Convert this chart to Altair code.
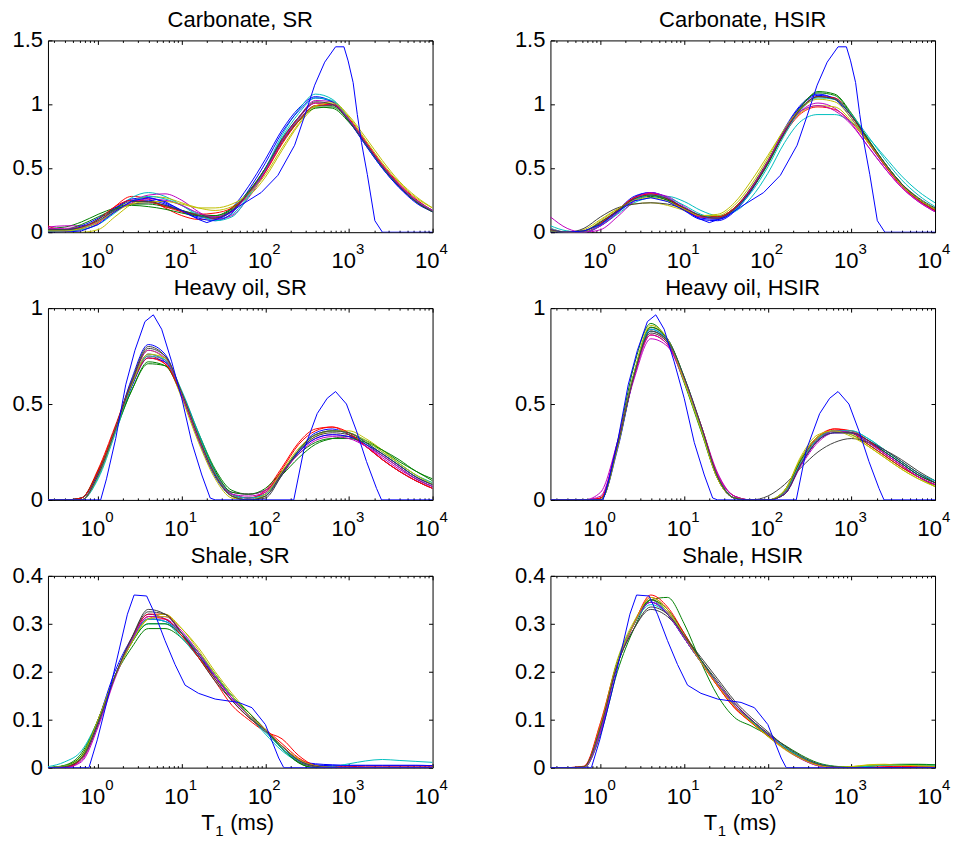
import altair as alt
import pandas as pd

FONT = "Liberation Sans"
W = 385
H = 192

# T1 grid (ms) on which the estimated distributions are sampled
T1_GRID = [0.251, 0.398, 0.631, 1.0, 1.585, 2.512, 3.981, 6.31, 10.0, 15.85, 25.12, 39.81,
           63.1, 100.0, 158.5, 251.2, 398.1, 631.0, 1000.0, 1585.0, 2512.0, 3981.0, 6310.0, 10000.0]

MATLAB_COLORS = ["#0000FF", "#008000", "#FF0000", "#00BFBF", "#BF00BF", "#BFBF00", "#404040"]
TRUE_COLOR = "#0000FF"

X_MAJOR = [1, 10, 100, 1000, 10000]
X_EXP = ["0", "1", "2", "3", "4"]
X_DECADES = [0.1, 1, 10, 100, 1000]
X_MULT = [1, 2, 3, 4, 5, 6, 7, 8, 9]
X_TICKS = [round(m * d, 6) for d in X_DECADES for m in X_MULT if m * d >= 0.25] + [10000]

# ---------------- Carbonate ----------------
CARB_SR = [
    [0.01, 0.01, 0.03, 0.08, 0.18, 0.26, 0.27, 0.23, 0.17, 0.12, 0.11, 0.19, 0.36, 0.57, 0.80, 0.97, 1.06, 1.02, 0.87, 0.68, 0.50, 0.35, 0.24, 0.16],
    [0.03, 0.04, 0.08, 0.14, 0.19, 0.22, 0.22, 0.20, 0.17, 0.14, 0.13, 0.18, 0.31, 0.50, 0.72, 0.88, 0.98, 0.97, 0.86, 0.69, 0.51, 0.36, 0.24, 0.16],
    [0.05, 0.01, 0.02, 0.07, 0.20, 0.28, 0.26, 0.19, 0.13, 0.10, 0.11, 0.16, 0.30, 0.49, 0.72, 0.90, 1.01, 1.00, 0.88, 0.70, 0.52, 0.37, 0.25, 0.17],
    [0.02, 0.02, 0.03, 0.08, 0.17, 0.27, 0.31, 0.28, 0.21, 0.13, 0.10, 0.14, 0.29, 0.50, 0.76, 0.96, 1.08, 1.04, 0.89, 0.69, 0.51, 0.36, 0.24, 0.17],
    [0.04, 0.05, 0.05, 0.08, 0.16, 0.24, 0.29, 0.30, 0.25, 0.16, 0.10, 0.13, 0.27, 0.47, 0.71, 0.90, 1.03, 1.02, 0.88, 0.70, 0.52, 0.37, 0.25, 0.17],
    [0.01, 0.00, 0.00, 0.02, 0.12, 0.22, 0.28, 0.27, 0.23, 0.19, 0.17, 0.20, 0.28, 0.43, 0.64, 0.84, 0.98, 1.02, 0.91, 0.74, 0.56, 0.40, 0.28, 0.19],
    [0.02, 0.02, 0.04, 0.09, 0.17, 0.22, 0.23, 0.21, 0.17, 0.13, 0.12, 0.17, 0.30, 0.48, 0.70, 0.87, 0.99, 0.99, 0.88, 0.70, 0.52, 0.37, 0.25, 0.17],
    [0.02, 0.02, 0.05, 0.11, 0.19, 0.25, 0.25, 0.22, 0.16, 0.11, 0.09, 0.15, 0.33, 0.54, 0.78, 0.95, 1.05, 1.02, 0.87, 0.68, 0.50, 0.35, 0.23, 0.16],
    [0.01, 0.02, 0.06, 0.12, 0.18, 0.21, 0.20, 0.18, 0.15, 0.13, 0.13, 0.19, 0.32, 0.50, 0.71, 0.87, 0.97, 0.98, 0.87, 0.70, 0.51, 0.36, 0.24, 0.16],
    [0.02, 0.01, 0.03, 0.10, 0.20, 0.25, 0.24, 0.20, 0.16, 0.14, 0.15, 0.19, 0.30, 0.47, 0.69, 0.87, 0.99, 1.00, 0.89, 0.71, 0.53, 0.38, 0.26, 0.17],
    [0.01, 0.01, 0.02, 0.06, 0.15, 0.24, 0.28, 0.26, 0.21, 0.14, 0.09, 0.12, 0.28, 0.49, 0.74, 0.93, 1.05, 1.03, 0.88, 0.69, 0.51, 0.36, 0.25, 0.17],
    [0.03, 0.03, 0.04, 0.08, 0.16, 0.23, 0.26, 0.25, 0.21, 0.15, 0.12, 0.16, 0.30, 0.48, 0.71, 0.89, 1.01, 1.00, 0.88, 0.70, 0.52, 0.37, 0.25, 0.17],
    [0.01, 0.01, 0.03, 0.08, 0.16, 0.22, 0.24, 0.24, 0.22, 0.19, 0.19, 0.22, 0.30, 0.45, 0.66, 0.85, 0.99, 1.01, 0.90, 0.72, 0.54, 0.39, 0.27, 0.19],
    [0.02, 0.02, 0.04, 0.10, 0.18, 0.24, 0.24, 0.21, 0.17, 0.13, 0.11, 0.17, 0.31, 0.50, 0.73, 0.90, 1.02, 1.00, 0.87, 0.69, 0.51, 0.36, 0.24, 0.16],
]
CARB_HSIR = [
    [0.01, 0.00, 0.00, 0.06, 0.17, 0.28, 0.31, 0.26, 0.17, 0.10, 0.09, 0.16, 0.32, 0.55, 0.81, 1.00, 1.08, 1.04, 0.89, 0.70, 0.52, 0.37, 0.25, 0.17],
    [0.02, 0.00, 0.01, 0.08, 0.16, 0.25, 0.28, 0.25, 0.19, 0.13, 0.12, 0.19, 0.34, 0.55, 0.79, 0.99, 1.09, 1.07, 0.92, 0.72, 0.53, 0.37, 0.26, 0.18],
    [0.03, 0.00, 0.00, 0.06, 0.17, 0.27, 0.30, 0.26, 0.18, 0.12, 0.11, 0.18, 0.34, 0.54, 0.77, 0.93, 0.98, 0.96, 0.86, 0.70, 0.53, 0.38, 0.26, 0.17],
    [0.05, 0.01, 0.00, 0.05, 0.14, 0.23, 0.27, 0.28, 0.24, 0.17, 0.13, 0.16, 0.27, 0.46, 0.70, 0.87, 0.92, 0.92, 0.86, 0.74, 0.59, 0.44, 0.32, 0.23],
    [0.12, 0.03, 0.00, 0.02, 0.12, 0.24, 0.30, 0.28, 0.20, 0.13, 0.11, 0.17, 0.33, 0.54, 0.78, 0.95, 1.01, 0.97, 0.85, 0.67, 0.50, 0.35, 0.24, 0.16],
    [0.01, 0.00, 0.02, 0.10, 0.18, 0.22, 0.23, 0.21, 0.17, 0.13, 0.14, 0.23, 0.40, 0.60, 0.80, 0.94, 0.99, 0.98, 0.87, 0.70, 0.53, 0.37, 0.26, 0.17],
    [0.02, 0.00, 0.03, 0.12, 0.19, 0.22, 0.23, 0.22, 0.18, 0.13, 0.12, 0.19, 0.35, 0.56, 0.79, 0.97, 1.06, 1.04, 0.91, 0.72, 0.54, 0.38, 0.26, 0.18],
    [0.02, 0.00, 0.00, 0.05, 0.15, 0.27, 0.31, 0.27, 0.18, 0.11, 0.10, 0.17, 0.33, 0.54, 0.80, 0.99, 1.07, 1.05, 0.91, 0.72, 0.53, 0.37, 0.26, 0.17],
    [0.01, 0.00, 0.01, 0.07, 0.16, 0.26, 0.29, 0.25, 0.18, 0.12, 0.11, 0.18, 0.33, 0.53, 0.78, 0.98, 1.10, 1.08, 0.93, 0.73, 0.54, 0.38, 0.26, 0.18],
    [0.02, 0.00, 0.00, 0.07, 0.17, 0.27, 0.30, 0.26, 0.18, 0.12, 0.12, 0.19, 0.34, 0.55, 0.79, 0.97, 1.06, 1.05, 0.91, 0.71, 0.52, 0.36, 0.25, 0.17],
    [0.03, 0.00, 0.00, 0.06, 0.15, 0.25, 0.29, 0.27, 0.21, 0.14, 0.11, 0.17, 0.31, 0.51, 0.76, 0.96, 1.05, 1.04, 0.92, 0.75, 0.57, 0.41, 0.29, 0.20],
    [0.02, 0.00, 0.00, 0.05, 0.15, 0.26, 0.31, 0.27, 0.19, 0.12, 0.11, 0.18, 0.34, 0.55, 0.79, 0.95, 0.99, 0.95, 0.84, 0.67, 0.50, 0.35, 0.24, 0.16],
    [0.01, 0.00, 0.01, 0.09, 0.18, 0.25, 0.27, 0.24, 0.18, 0.13, 0.13, 0.21, 0.37, 0.58, 0.81, 0.97, 1.04, 1.02, 0.89, 0.71, 0.53, 0.37, 0.26, 0.18],
    [0.02, 0.00, 0.01, 0.08, 0.17, 0.26, 0.29, 0.26, 0.19, 0.13, 0.11, 0.18, 0.33, 0.54, 0.78, 0.97, 1.06, 1.04, 0.91, 0.72, 0.54, 0.38, 0.27, 0.19],
]
CARB_TRUE_T = [0.251, 0.398, 0.631, 1.0, 1.585, 2.512, 3.981, 6.31, 10.0, 15.85, 19.95, 31.62, 47.86, 89.13,
               141.3, 223.9, 295.1, 389.0, 512.9, 691.8, 871.0, 977.2, 1122.0, 1259.0, 1413.0, 1660.0,
               2042.0, 2512.0, 10000.0]
CARB_TRUE_V = [0.0, 0.0, 0.01, 0.06, 0.16, 0.245, 0.27, 0.24, 0.17, 0.10, 0.075, 0.12, 0.20, 0.31,
               0.445, 0.68, 0.91, 1.15, 1.33, 1.45, 1.45, 1.34, 1.17, 0.92, 0.70, 0.45,
               0.09, 0.0, 0.0]

# ---------------- Heavy oil ----------------
HOIL_SR = [
    [0, 0, 0.00, 0.12, 0.36, 0.63, 0.81, 0.76, 0.55, 0.31, 0.12, 0.02, 0.00, 0.02, 0.13, 0.26, 0.35, 0.37, 0.34, 0.28, 0.21, 0.15, 0.10, 0.06],
    [0, 0, 0.01, 0.15, 0.35, 0.57, 0.71, 0.70, 0.56, 0.35, 0.16, 0.05, 0.03, 0.05, 0.13, 0.22, 0.29, 0.32, 0.33, 0.31, 0.26, 0.20, 0.15, 0.10],
    [0, 0, 0.01, 0.16, 0.38, 0.61, 0.75, 0.71, 0.54, 0.32, 0.13, 0.03, 0.01, 0.05, 0.17, 0.30, 0.37, 0.38, 0.34, 0.28, 0.21, 0.15, 0.10, 0.06],
    [0, 0, 0.00, 0.11, 0.34, 0.59, 0.75, 0.73, 0.57, 0.35, 0.15, 0.03, 0.00, 0.03, 0.14, 0.26, 0.34, 0.36, 0.35, 0.30, 0.24, 0.18, 0.12, 0.08],
    [0, 0, 0.00, 0.13, 0.36, 0.60, 0.76, 0.72, 0.54, 0.32, 0.14, 0.04, 0.03, 0.05, 0.15, 0.25, 0.32, 0.34, 0.33, 0.28, 0.22, 0.16, 0.11, 0.07],
    [0, 0, 0.00, 0.12, 0.35, 0.61, 0.78, 0.73, 0.53, 0.30, 0.11, 0.01, 0.00, 0.02, 0.14, 0.26, 0.33, 0.36, 0.36, 0.32, 0.26, 0.19, 0.13, 0.09],
    [0, 0, 0.00, 0.14, 0.37, 0.62, 0.80, 0.75, 0.55, 0.32, 0.13, 0.02, 0.00, 0.01, 0.13, 0.25, 0.33, 0.35, 0.34, 0.29, 0.23, 0.17, 0.11, 0.07],
    [0, 0, 0.01, 0.14, 0.36, 0.59, 0.74, 0.72, 0.56, 0.34, 0.14, 0.03, 0.01, 0.03, 0.14, 0.25, 0.32, 0.34, 0.33, 0.29, 0.24, 0.18, 0.12, 0.08],
    [0, 0, 0.01, 0.15, 0.36, 0.57, 0.72, 0.70, 0.55, 0.34, 0.15, 0.04, 0.03, 0.06, 0.15, 0.24, 0.30, 0.32, 0.32, 0.30, 0.26, 0.21, 0.15, 0.11],
    [0, 0, 0.01, 0.15, 0.37, 0.60, 0.74, 0.71, 0.55, 0.33, 0.14, 0.03, 0.01, 0.04, 0.16, 0.29, 0.36, 0.38, 0.35, 0.28, 0.21, 0.15, 0.10, 0.06],
    [0, 0, 0.00, 0.12, 0.35, 0.60, 0.76, 0.73, 0.56, 0.34, 0.14, 0.03, 0.01, 0.03, 0.14, 0.26, 0.34, 0.36, 0.35, 0.31, 0.25, 0.19, 0.13, 0.09],
    [0, 0, 0.00, 0.13, 0.36, 0.61, 0.78, 0.74, 0.55, 0.32, 0.13, 0.03, 0.02, 0.04, 0.14, 0.24, 0.31, 0.33, 0.32, 0.28, 0.23, 0.17, 0.11, 0.07],
    [0, 0, 0.00, 0.13, 0.36, 0.60, 0.76, 0.74, 0.56, 0.33, 0.13, 0.02, 0.00, 0.03, 0.15, 0.27, 0.34, 0.36, 0.35, 0.31, 0.25, 0.19, 0.13, 0.08],
    [0, 0, 0.00, 0.13, 0.36, 0.61, 0.79, 0.75, 0.56, 0.33, 0.13, 0.02, 0.00, 0.02, 0.14, 0.26, 0.34, 0.36, 0.35, 0.30, 0.24, 0.18, 0.12, 0.08],
]
HOIL_HSIR = [
    [0, 0, 0, 0.00, 0.26, 0.65, 0.90, 0.84, 0.63, 0.37, 0.11, 0.01, 0, 0, 0.03, 0.19, 0.31, 0.36, 0.35, 0.30, 0.24, 0.18, 0.12, 0.08],
    [0, 0, 0, 0.00, 0.30, 0.70, 0.92, 0.83, 0.61, 0.36, 0.11, 0.01, 0, 0, 0.05, 0.22, 0.33, 0.36, 0.34, 0.29, 0.23, 0.17, 0.12, 0.07],
    [0, 0, 0, 0.01, 0.29, 0.66, 0.88, 0.82, 0.63, 0.38, 0.12, 0.01, 0, 0, 0.04, 0.21, 0.33, 0.37, 0.35, 0.29, 0.23, 0.17, 0.12, 0.08],
    [0, 0, 0, 0.00, 0.27, 0.65, 0.88, 0.83, 0.64, 0.39, 0.13, 0.02, 0, 0, 0.03, 0.19, 0.31, 0.36, 0.36, 0.32, 0.26, 0.20, 0.14, 0.10],
    [0, 0, 0, 0.04, 0.30, 0.63, 0.84, 0.80, 0.62, 0.39, 0.14, 0.02, 0, 0, 0.03, 0.18, 0.30, 0.35, 0.35, 0.31, 0.25, 0.19, 0.13, 0.09],
    [0, 0, 0, 0.00, 0.27, 0.66, 0.90, 0.83, 0.62, 0.37, 0.11, 0.01, 0, 0, 0.05, 0.22, 0.33, 0.36, 0.34, 0.28, 0.22, 0.16, 0.11, 0.07],
    [0, 0, 0, 0.00, 0.28, 0.65, 0.87, 0.82, 0.63, 0.38, 0.12, 0.01, 0, 0.02, 0.08, 0.17, 0.25, 0.30, 0.32, 0.30, 0.26, 0.21, 0.15, 0.10],
    [0, 0, 0, 0.00, 0.27, 0.65, 0.89, 0.83, 0.63, 0.38, 0.12, 0.01, 0, 0, 0.03, 0.19, 0.31, 0.35, 0.35, 0.31, 0.25, 0.19, 0.13, 0.09],
    [0, 0, 0, 0.00, 0.28, 0.66, 0.90, 0.84, 0.64, 0.38, 0.12, 0.01, 0, 0, 0.04, 0.21, 0.32, 0.36, 0.35, 0.30, 0.25, 0.19, 0.13, 0.09],
    [0, 0, 0, 0.01, 0.29, 0.65, 0.86, 0.81, 0.63, 0.39, 0.13, 0.02, 0, 0, 0.04, 0.20, 0.32, 0.37, 0.36, 0.31, 0.24, 0.18, 0.12, 0.08],
    [0, 0, 0, 0.00, 0.28, 0.66, 0.89, 0.83, 0.63, 0.38, 0.12, 0.01, 0, 0, 0.04, 0.20, 0.32, 0.36, 0.36, 0.32, 0.26, 0.20, 0.14, 0.10],
    [0, 0, 0, 0.02, 0.29, 0.64, 0.86, 0.81, 0.63, 0.39, 0.13, 0.02, 0, 0, 0.03, 0.19, 0.31, 0.36, 0.35, 0.30, 0.24, 0.18, 0.12, 0.08],
    [0, 0, 0, 0.00, 0.27, 0.66, 0.91, 0.84, 0.62, 0.37, 0.11, 0.01, 0, 0, 0.05, 0.23, 0.34, 0.36, 0.33, 0.28, 0.22, 0.16, 0.11, 0.07],
    [0, 0, 0, 0.00, 0.28, 0.65, 0.88, 0.83, 0.64, 0.39, 0.12, 0.01, 0, 0, 0.03, 0.19, 0.31, 0.35, 0.35, 0.31, 0.26, 0.20, 0.14, 0.09],
]
HOIL_TRUE_T = [0.251, 1.072, 1.259, 1.622, 2.138, 2.754, 3.631, 4.571, 5.754, 7.586, 10.0, 13.18, 17.38,
               21.88, 25.12, 218.8, 288.4, 416.9, 549.5, 691.8, 933.3, 1230.0, 1622.0, 2138.0, 2455.0, 10000.0]
HOIL_TRUE_V = [0.0, 0.0, 0.11, 0.32, 0.60, 0.78, 0.93, 0.965, 0.89, 0.72, 0.53, 0.30, 0.13,
               0.01, 0.0, 0.0, 0.26, 0.45, 0.53, 0.565, 0.50, 0.36, 0.20, 0.06, 0.0, 0.0]

# ---------------- Shale ----------------
SHALE_SR = [
    [0, 0.002, 0.02, 0.10, 0.20, 0.27, 0.32, 0.31, 0.28, 0.24, 0.19, 0.15, 0.11, 0.08, 0.04, 0.015, 0.008, 0.006, 0.005, 0.005, 0.005, 0.005, 0.005, 0.004],
    [0, 0.005, 0.03, 0.10, 0.19, 0.25, 0.29, 0.29, 0.27, 0.23, 0.19, 0.15, 0.11, 0.08, 0.04, 0.01, 0, 0, 0, 0, 0, 0, 0, 0],
    [0, 0.000, 0.02, 0.10, 0.19, 0.27, 0.32, 0.32, 0.28, 0.23, 0.18, 0.13, 0.10, 0.075, 0.06, 0.025, 0.005, 0.002, 0.002, 0.003, 0.003, 0.003, 0.003, 0.003],
    [0.002, 0.012, 0.035, 0.10, 0.19, 0.26, 0.30, 0.30, 0.27, 0.23, 0.19, 0.15, 0.11, 0.07, 0.035, 0.012, 0.004, 0.003, 0.008, 0.014, 0.017, 0.015, 0.013, 0.011],
    [0, 0.000, 0.015, 0.09, 0.19, 0.265, 0.31, 0.31, 0.28, 0.24, 0.19, 0.145, 0.11, 0.08, 0.045, 0.015, 0.002, 0, 0, 0, 0, 0, 0, 0],
    [0, 0.004, 0.025, 0.10, 0.19, 0.26, 0.31, 0.32, 0.29, 0.25, 0.20, 0.155, 0.115, 0.08, 0.045, 0.018, 0.004, 0, 0, 0, 0, 0, 0, 0],
    [0, 0.001, 0.018, 0.09, 0.19, 0.27, 0.33, 0.32, 0.28, 0.23, 0.18, 0.14, 0.105, 0.075, 0.04, 0.012, 0.002, 0, 0, 0, 0, 0, 0, 0],
    [0, 0.002, 0.02, 0.095, 0.19, 0.265, 0.31, 0.305, 0.275, 0.235, 0.19, 0.145, 0.11, 0.08, 0.045, 0.016, 0.006, 0.004, 0.004, 0.004, 0.004, 0.004, 0.004, 0.004],
    [0, 0.004, 0.025, 0.10, 0.19, 0.26, 0.30, 0.30, 0.275, 0.24, 0.195, 0.15, 0.115, 0.08, 0.04, 0.01, 0, 0, 0, 0, 0, 0, 0, 0],
    [0, 0.001, 0.018, 0.095, 0.19, 0.265, 0.315, 0.31, 0.275, 0.23, 0.185, 0.14, 0.105, 0.08, 0.05, 0.02, 0.004, 0, 0, 0, 0, 0, 0, 0],
    [0, 0.003, 0.02, 0.095, 0.19, 0.265, 0.31, 0.305, 0.28, 0.24, 0.195, 0.15, 0.11, 0.075, 0.04, 0.014, 0.003, 0, 0, 0, 0, 0, 0, 0],
    [0, 0.000, 0.012, 0.085, 0.185, 0.265, 0.315, 0.315, 0.285, 0.24, 0.19, 0.145, 0.11, 0.08, 0.045, 0.016, 0.003, 0, 0, 0, 0, 0, 0, 0],
    [0, 0.003, 0.022, 0.10, 0.19, 0.26, 0.31, 0.315, 0.29, 0.245, 0.195, 0.15, 0.11, 0.08, 0.045, 0.017, 0.004, 0, 0, 0, 0, 0, 0, 0],
    [0, 0.002, 0.02, 0.095, 0.19, 0.27, 0.325, 0.32, 0.28, 0.235, 0.185, 0.14, 0.105, 0.078, 0.044, 0.015, 0.003, 0, 0, 0, 0, 0, 0, 0],
]
SHALE_HSIR = [
    [0, 0, 0, 0.08, 0.22, 0.30, 0.35, 0.32, 0.27, 0.22, 0.175, 0.13, 0.098, 0.068, 0.04, 0.02, 0.006, 0.001, 0, 0, 0, 0, 0, 0],
    [0, 0, 0, 0.07, 0.20, 0.29, 0.35, 0.355, 0.30, 0.22, 0.15, 0.105, 0.087, 0.068, 0.047, 0.026, 0.01, 0.003, 0.001, 0.003, 0.006, 0.007, 0.007, 0.006],
    [0, 0, 0.003, 0.095, 0.22, 0.30, 0.355, 0.33, 0.275, 0.22, 0.17, 0.125, 0.095, 0.066, 0.04, 0.02, 0.006, 0.001, 0, 0.001, 0.002, 0.003, 0.003, 0.003],
    [0, 0, 0, 0.08, 0.22, 0.30, 0.345, 0.325, 0.275, 0.225, 0.175, 0.13, 0.097, 0.068, 0.042, 0.022, 0.008, 0.002, 0.001, 0.004, 0.006, 0.006, 0.005, 0.005],
    [0, 0, 0, 0.075, 0.215, 0.30, 0.35, 0.325, 0.27, 0.22, 0.175, 0.135, 0.10, 0.07, 0.04, 0.018, 0.004, 0, 0, 0, 0, 0, 0, 0],
    [0, 0, 0.001, 0.09, 0.225, 0.305, 0.35, 0.325, 0.27, 0.22, 0.175, 0.13, 0.095, 0.065, 0.038, 0.018, 0.005, 0.001, 0.002, 0.006, 0.007, 0.005, 0.004, 0.003],
    [0, 0, 0.002, 0.085, 0.215, 0.29, 0.33, 0.315, 0.275, 0.23, 0.185, 0.14, 0.105, 0.075, 0.045, 0.022, 0.007, 0.001, 0, 0, 0, 0, 0, 0],
    [0, 0, 0, 0.08, 0.215, 0.30, 0.345, 0.32, 0.27, 0.22, 0.175, 0.13, 0.10, 0.07, 0.042, 0.02, 0.006, 0, 0, 0, 0, 0, 0, 0],
    [0, 0, 0.001, 0.085, 0.22, 0.30, 0.35, 0.33, 0.28, 0.225, 0.175, 0.13, 0.097, 0.068, 0.042, 0.021, 0.007, 0.002, 0.001, 0.003, 0.005, 0.006, 0.006, 0.005],
    [0, 0, 0.002, 0.09, 0.22, 0.30, 0.36, 0.335, 0.28, 0.22, 0.17, 0.125, 0.094, 0.066, 0.04, 0.02, 0.006, 0.001, 0, 0, 0.001, 0.002, 0.002, 0.002],
    [0, 0, 0, 0.08, 0.22, 0.30, 0.34, 0.32, 0.27, 0.22, 0.175, 0.13, 0.098, 0.07, 0.043, 0.022, 0.008, 0.002, 0, 0.003, 0.005, 0.005, 0.004, 0.004],
    [0, 0, 0, 0.078, 0.215, 0.30, 0.345, 0.32, 0.27, 0.22, 0.175, 0.13, 0.10, 0.07, 0.04, 0.018, 0.004, 0, 0, 0, 0, 0, 0, 0],
    [0, 0, 0.001, 0.088, 0.22, 0.30, 0.355, 0.33, 0.275, 0.22, 0.172, 0.128, 0.096, 0.066, 0.04, 0.019, 0.005, 0.001, 0.002, 0.005, 0.006, 0.005, 0.004, 0.003],
    [0, 0, 0.002, 0.085, 0.215, 0.29, 0.335, 0.32, 0.275, 0.225, 0.18, 0.135, 0.10, 0.072, 0.046, 0.024, 0.008, 0.002, 0, 0, 0, 0, 0, 0],
]
SHALE_TRUE_T = [0.251, 0.776, 0.977, 1.349, 1.778, 2.239, 2.692, 3.802, 4.786, 6.31, 8.318, 10.96, 15.85,
                25.12, 47.86, 69.18, 100.0, 120.2, 144.5, 166.0, 10000.0]
SHALE_TRUE_V = [0.0, 0.0, 0.058, 0.155, 0.245, 0.32, 0.36, 0.358, 0.32, 0.265, 0.215, 0.172, 0.155,
                0.143, 0.136, 0.125, 0.09, 0.055, 0.02, 0.0, 0.0]

Y_CARB = [0, 0.5, 1, 1.5]
Y_CARB_LAB = ["0", "0.5", "1", "1.5"]
Y_HOIL = [0, 0.5, 1]
Y_HOIL_LAB = ["0", "0.5", "1"]
Y_SHALE = [0, 0.1, 0.2, 0.3, 0.4]
Y_SHALE_LAB = ["0", "0.1", "0.2", "0.3", "0.4"]

PANELS = [
    ("Carbonate, SR", CARB_SR, CARB_TRUE_T, CARB_TRUE_V, 1.5, Y_CARB, Y_CARB_LAB, False),
    ("Carbonate, HSIR", CARB_HSIR, CARB_TRUE_T, CARB_TRUE_V, 1.5, Y_CARB, Y_CARB_LAB, False),
    ("Heavy oil, SR", HOIL_SR, HOIL_TRUE_T, HOIL_TRUE_V, 1.0, Y_HOIL, Y_HOIL_LAB, False),
    ("Heavy oil, HSIR", HOIL_HSIR, HOIL_TRUE_T, HOIL_TRUE_V, 1.0, Y_HOIL, Y_HOIL_LAB, False),
    ("Shale, SR", SHALE_SR, SHALE_TRUE_T, SHALE_TRUE_V, 0.4, Y_SHALE, Y_SHALE_LAB, True),
    ("Shale, HSIR", SHALE_HSIR, SHALE_TRUE_T, SHALE_TRUE_V, 0.4, Y_SHALE, Y_SHALE_LAB, True),
]

MAJOR_TEST = "indexof([1, 10, 100, 1000, 10000], datum.value) >= 0"
X_TICK_SIZE = {"condition": {"test": MAJOR_TEST, "value": 4}, "value": 2}


def make_panel(title, est, true_t, true_v, ymax, yticks, ylabels, xtitle):
    xs = alt.Scale(type="log", domain=[0.251, 10000], nice=False)
    ys = alt.Scale(domain=[0, ymax], nice=False, zero=True)

    rows = []
    for i, curve in enumerate(est):
        for t, v in zip(T1_GRID, curve):
            rows.append({"t": t, "v": v, "id": i, "c": MATLAB_COLORS[i % 7]})
    est_df = pd.DataFrame(rows)
    true_df = pd.DataFrame({"t": true_t, "v": true_v})

    common_axis = dict(labels=False, domain=False, grid=False, tickColor="black", tickWidth=1, title=None)

    est_layer = alt.Chart(est_df).mark_line(strokeWidth=1, interpolate="monotone", clip=True).encode(
        x=alt.X("t:Q", scale=xs,
                axis=alt.Axis(orient="top", offset=-H, values=X_TICKS, tickSize=X_TICK_SIZE, **common_axis)),
        y=alt.Y("v:Q", scale=ys,
                axis=alt.Axis(orient="right", offset=-W, values=yticks, tickSize=4, **common_axis)),
        detail="id:N",
        color=alt.Color("c:N", scale=None),
    )
    true_layer = alt.Chart(true_df).mark_line(strokeWidth=1, color=TRUE_COLOR, clip=True).encode(
        x=alt.X("t:Q", scale=xs,
                axis=alt.Axis(orient="bottom", offset=-H, values=X_TICKS, tickSize=X_TICK_SIZE, **common_axis)),
        y=alt.Y("v:Q", scale=ys,
                axis=alt.Axis(orient="left", offset=-W, values=yticks, tickSize=4, **common_axis)),
    )

    xlab_df = pd.DataFrame({"t": X_MAJOR, "base": ["10"] * len(X_MAJOR), "exp": X_EXP})
    xbase = alt.Chart(xlab_df).mark_text(align="right", baseline="alphabetic", dx=7, fontSize=22,
                                         font=FONT, color="black").encode(
        x=alt.X("t:Q", scale=xs, axis=None), y=alt.value(H + 36), text="base:N")
    xexp = alt.Chart(xlab_df).mark_text(align="left", baseline="alphabetic", dx=7, fontSize=15,
                                        font=FONT, color="black").encode(
        x=alt.X("t:Q", scale=xs, axis=None), y=alt.value(H + 22), text="exp:N")

    ylab_df = pd.DataFrame({"v": yticks, "lab": ylabels})
    ylab = alt.Chart(ylab_df).mark_text(align="right", baseline="middle", dx=-5, fontSize=22,
                                        font=FONT, color="black").encode(
        x=alt.value(0), y=alt.Y("v:Q", scale=ys, axis=None), text="lab:N")

    ttl = alt.Chart(pd.DataFrame({"ttl": [title]})).mark_text(
        align="center", baseline="alphabetic", fontSize=22, font=FONT, color="black").encode(
        x=alt.value(W / 2), y=alt.value(-13), text="ttl:N")

    layers = [est_layer, true_layer, xbase, xexp, ylab, ttl]

    if xtitle:
        xt_df = pd.DataFrame({"a": ["T"], "b": ["1"], "c": ["(ms)"]})
        layers.append(alt.Chart(xt_df).mark_text(align="left", baseline="alphabetic", fontSize=22,
                                                 font=FONT, color="black").encode(
            x=alt.value(W / 2 - 39), y=alt.value(H + 62), text="a:N"))
        layers.append(alt.Chart(xt_df).mark_text(align="left", baseline="alphabetic", fontSize=15,
                                                 font=FONT, color="black").encode(
            x=alt.value(W / 2 - 25), y=alt.value(H + 68), text="b:N"))
        layers.append(alt.Chart(xt_df).mark_text(align="left", baseline="alphabetic", fontSize=22,
                                                 font=FONT, color="black").encode(
            x=alt.value(W / 2 - 10), y=alt.value(H + 62), text="c:N"))

    return alt.layer(*layers).resolve_axis(x="independent", y="independent").properties(width=W, height=H)


panels = [make_panel(*p) for p in PANELS]

chart = alt.concat(*panels, columns=2, spacing={"row": 76, "column": 118}, bounds="flush").properties(
    padding={"left": 3, "top": 0, "right": 0, "bottom": 0},
    background="white",
).configure_view(stroke="black", strokeWidth=1)

chart.save("out.html", embed_options={"renderer": "svg", "actions": False})
